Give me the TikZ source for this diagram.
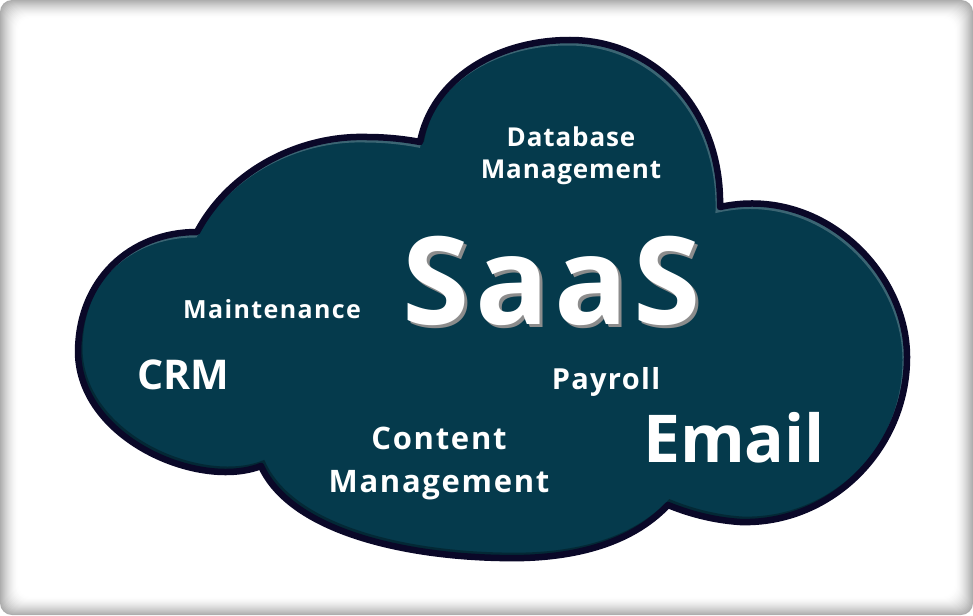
\documentclass[tikz,border=0pt]{standalone}
\usepackage{fontspec}
\setmainfont{Open Sans}
\definecolor{cloudfill}{RGB}{5,58,76}
\definecolor{cloudline}{RGB}{10,8,40}
\newcommand{\fsz}[2]{\bfseries\fontsize{#1}{#1}\selectfont\addfontfeatures{LetterSpace=#2}}
\def\cloudpath{(261,466) .. controls (200,490) and (80,440) .. (78,353)
 .. controls (78,280) and (130,232) .. (197,232)
 .. controls (230,170) and (300,135) .. (367,137)
 .. controls (390,137) and (410,140) .. (420,142)
 .. controls (432,80) and (495,40) .. (570,40)
 .. controls (655,40) and (722,110) .. (720,207)
 .. controls (820,185) and (907,270) .. (907,357)
 .. controls (907,450) and (830,525) .. (740,522)
 .. controls (710,520) and (685,512) .. (668,505)
 .. controls (630,545) and (570,560) .. (500,558)
 .. controls (400,556) and (290,530) .. (261,466) -- cycle}
\begin{document}
\begin{tikzpicture}[x=1pt,y=-1pt,
  txt/.style={text=white,inner sep=0pt,anchor=base}]
\useasboundingbox (0,0) rectangle (973,615);
% beveled frame
\foreach \i in {0,...,18}{
  \pgfmathsetmacro\w{100-64*(1-\i/18)^1.6}
  \fill[white!\w!gray, rounded corners=12pt] (\i,\i) rectangle (973-\i,615-\i);
}
% cloud
\fill[cloudfill] \cloudpath;
\begin{scope}
  \clip \cloudpath;
  \draw[line width=5pt, white, opacity=.22, shift={(-2,3)}] \cloudpath;
  \draw[line width=5pt, black, opacity=.3, shift={(2,-3)}] \cloudpath;
\end{scope}
\draw[cloudline, line width=6.5pt, line join=round] \cloudpath;
% texts
\node[txt, font=\fsz{26}{3.5}] (db1) at (571,146) {Database};
\node[txt, font=\fsz{26}{3.5}] (db2) at (571,178) {Management};
\node[txt, font=\fsz{25}{5.5}] (maint) at (272,318) {Maintenance};
\node[txt, font=\fsz{41}{0}] (crm) at (183,389) {CRM};
\node[txt, font=\fsz{122}{4.5}, text=black!45] (saasshadow) at (555,327) {SaaS};
\node[txt, font=\fsz{122}{4.5}] (saas) at (552,324) {SaaS};
\node[txt, font=\fsz{29}{4.5}] (pay) at (606,389) {Payroll};
\node[txt, font=\fsz{31}{5.5}] (cont1) at (439,449) {Content};
\node[txt, font=\fsz{31}{5.5}] (cont2) at (439,492) {Management};
\node[txt, font=\fsz{66}{0}] (email) at (734,462) {Email};
\end{tikzpicture}
\end{document}
